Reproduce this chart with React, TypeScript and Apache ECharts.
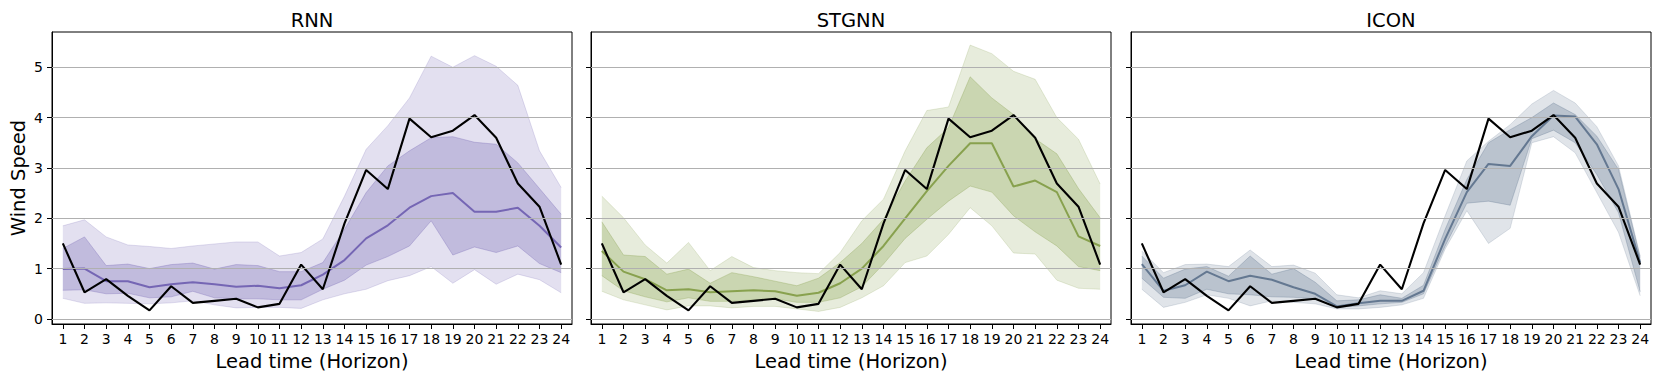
import React, { useEffect, useRef } from "react";
import * as echarts from "echarts";

const HORIZONS = ["1","2","3","4","5","6","7","8","9","10","11","12","13","14","15","16","17","18","19","20","21","22","23","24"];
const Y_TICKS = [0, 1, 2, 3, 4, 5];
const PANEL_TITLES = ["RNN", "STGNN", "ICON"];

const TRUTH = [1.50,0.53,0.79,0.46,0.17,0.65,0.32,0.36,0.40,0.23,0.30,1.08,0.59,1.90,2.96,2.58,3.98,3.61,3.74,4.05,3.60,2.69,2.23,1.08];

const RNN_MEDIAN = [0.99,1.00,0.75,0.75,0.63,0.69,0.73,0.69,0.64,0.66,0.61,0.67,0.88,1.17,1.60,1.86,2.21,2.44,2.50,2.13,2.13,2.21,1.85,1.42];
const RNN_INNER_LO = [0.57,0.58,0.50,0.51,0.42,0.44,0.55,0.42,0.40,0.40,0.38,0.38,0.59,0.77,1.07,1.24,1.45,1.95,1.27,1.43,1.32,1.45,1.10,0.92];
const RNN_INNER_HI = [1.40,1.63,1.06,1.09,1.00,1.08,1.11,0.99,1.08,1.06,0.94,0.94,1.12,1.78,2.51,3.04,3.34,3.60,3.62,3.51,3.47,3.10,2.59,2.08];
const RNN_OUTER_LO = [0.41,0.31,0.32,0.31,0.30,0.32,0.36,0.28,0.22,0.23,0.23,0.21,0.38,0.50,0.59,0.76,0.86,1.04,0.71,0.98,0.69,0.89,0.78,0.52];
const RNN_OUTER_HI = [1.85,1.97,1.63,1.47,1.44,1.40,1.45,1.49,1.53,1.53,1.25,1.32,1.59,2.44,3.37,3.84,4.39,5.22,5.00,5.23,5.02,4.64,3.34,2.61];

const STGNN_MEDIAN = [1.35,0.94,0.79,0.57,0.59,0.53,0.55,0.57,0.55,0.46,0.52,0.71,1.00,1.45,2.00,2.54,3.04,3.49,3.49,2.63,2.75,2.52,1.64,1.45];
const STGNN_INNER_LO = [0.86,0.56,0.44,0.34,0.42,0.35,0.35,0.38,0.40,0.33,0.33,0.42,0.64,1.09,1.60,1.98,2.34,2.64,2.52,2.05,1.73,1.45,1.04,0.96];
const STGNN_INNER_HI = [1.93,1.27,1.24,0.89,0.99,0.71,0.92,0.84,0.75,0.66,0.81,1.12,1.50,1.98,2.74,3.40,3.80,4.81,4.39,4.06,3.58,3.28,2.59,2.01];
const STGNN_OUTER_LO = [0.55,0.38,0.28,0.18,0.26,0.26,0.22,0.25,0.25,0.20,0.15,0.23,0.42,0.66,1.12,1.25,1.68,2.21,1.85,1.31,1.29,0.77,0.61,0.59];
const STGNN_OUTER_HI = [2.44,2.01,1.47,1.11,1.52,0.96,1.24,1.02,0.96,0.92,0.90,1.32,1.95,2.38,3.34,4.14,4.21,5.44,5.27,4.92,4.76,4.00,3.57,2.68];

const ICON_MEDIAN = [1.09,0.56,0.67,0.94,0.75,0.86,0.78,0.63,0.50,0.25,0.31,0.36,0.36,0.56,1.59,2.52,3.08,3.04,3.63,4.04,4.02,3.47,2.58,1.12];
const ICON_INNER_LO = [0.81,0.43,0.41,0.59,0.50,0.48,0.44,0.43,0.40,0.23,0.26,0.30,0.33,0.50,1.45,2.30,2.34,2.26,3.58,3.75,3.50,2.87,2.11,0.54];
const ICON_INNER_HI = [1.25,0.81,0.99,1.04,0.85,1.25,0.89,1.00,0.73,0.36,0.38,0.48,0.41,0.67,1.78,2.77,3.50,3.76,4.00,4.29,4.06,3.63,2.97,1.22];
const ICON_OUTER_LO = [0.59,0.23,0.33,0.48,0.41,0.26,0.36,0.33,0.30,0.20,0.20,0.23,0.28,0.41,1.39,2.15,1.50,1.80,3.50,3.62,3.30,2.51,1.72,0.46];
const ICON_OUTER_HI = [1.35,0.92,1.08,1.09,1.04,1.37,1.04,1.07,0.91,0.48,0.42,0.56,0.50,0.92,2.05,3.14,3.53,3.86,4.27,4.54,4.29,3.82,3.04,1.25];

const PANEL_DATA = [
  { median: RNN_MEDIAN, innerLo: RNN_INNER_LO, innerHi: RNN_INNER_HI, outerLo: RNN_OUTER_LO, outerHi: RNN_OUTER_HI },
  { median: STGNN_MEDIAN, innerLo: STGNN_INNER_LO, innerHi: STGNN_INNER_HI, outerLo: STGNN_OUTER_LO, outerHi: STGNN_OUTER_HI },
  { median: ICON_MEDIAN, innerLo: ICON_INNER_LO, innerHi: ICON_INNER_HI, outerLo: ICON_OUTER_LO, outerHi: ICON_OUTER_HI },
];

// styling / layout
const PANEL_RGB = [[117, 102, 180], [136, 161, 78], [100, 120, 145]];
const GRID_LEFT = [52, 591, 1131];
const GRID_TOP = 32;
const GRID_W = 520;
const GRID_H = 292;
const FONT = "DejaVu Sans";

const rgba = (c: number[], a: number) => `rgba(${c[0]},${c[1]},${c[2]},${a})`;

function buildOption() {
  const grid: any[] = [];
  const xAxis: any[] = [];
  const yAxis: any[] = [];
  const series: any[] = [];
  const title: any[] = [];
  const axisLineStyle = { color: "#000", width: 1 };

  PANEL_DATA.forEach((p, i) => {
    const c = PANEL_RGB[i];
    grid.push({
      left: GRID_LEFT[i], top: GRID_TOP, width: GRID_W, height: GRID_H,
      show: true, borderColor: "#000", borderWidth: 1, backgroundColor: "transparent",
    });
    title.push({
      text: PANEL_TITLES[i], left: GRID_LEFT[i] + GRID_W / 2, top: 10, padding: 0, textAlign: "center",
      textStyle: { fontFamily: FONT, fontSize: 19.5, fontWeight: "normal", color: "#000" },
    });
    xAxis.push({
      type: "category", gridIndex: i, data: HORIZONS, boundaryGap: true,
      name: "Lead time (Horizon)", nameLocation: "middle", nameGap: 27,
      nameTextStyle: { fontFamily: FONT, fontSize: 19.5, color: "#000" },
      axisLine: { show: true, onZero: false, lineStyle: axisLineStyle },
      axisTick: { show: true, alignWithLabel: true, length: 5, lineStyle: axisLineStyle },
      axisLabel: { interval: 0, margin: 8, fontFamily: FONT, fontSize: 14, color: "#000" },
      splitLine: { show: false },
    });
    yAxis.push({
      type: "value", gridIndex: i, min: -0.1, max: 5.7,
      name: i === 0 ? "Wind Speed" : "", nameLocation: "middle", nameGap: 24, nameRotate: 90,
      nameTextStyle: { fontFamily: FONT, fontSize: 19.5, color: "#000" },
      axisLine: { show: true, onZero: false, lineStyle: axisLineStyle },
      axisTick: { show: true, length: 5, customValues: Y_TICKS, lineStyle: axisLineStyle },
      axisLabel: { show: i === 0, customValues: Y_TICKS, margin: 9, fontFamily: FONT, fontSize: 14, color: "#000" },
      splitLine: { show: false },
    });
    const common = {
      type: "line", xAxisIndex: i, yAxisIndex: i, symbol: "none", showSymbol: false,
      silent: true, emphasis: { disabled: true },
    };
    // outer band
    series.push({ ...common, stack: `outer${i}`, data: p.outerLo, z: 1,
      lineStyle: { color: rgba(c, 0.2), width: 1 } });
    series.push({ ...common, stack: `outer${i}`, data: p.outerHi.map((v, k) => +(v - p.outerLo[k]).toFixed(3)), z: 1,
      lineStyle: { color: rgba(c, 0.2), width: 1 }, areaStyle: { color: rgba(c, 0.2), opacity: 1 } });
    // inner band
    series.push({ ...common, stack: `inner${i}`, data: p.innerLo, z: 1,
      lineStyle: { color: rgba(c, 0.32), width: 1 } });
    series.push({ ...common, stack: `inner${i}`, data: p.innerHi.map((v, k) => +(v - p.innerLo[k]).toFixed(3)), z: 1,
      lineStyle: { color: rgba(c, 0.32), width: 1 }, areaStyle: { color: rgba(c, 0.3), opacity: 1 } });
    // grid lines
    series.push({ ...common, data: [], z: 2,
      markLine: {
        silent: true, symbol: ["none", "none"], label: { show: false }, animation: false,
        lineStyle: { color: "#b0b0b0", width: 1.1, type: "solid" },
        emphasis: { disabled: true },
        data: Y_TICKS.map((v) => ({ yAxis: v })),
      } });
    // median
    series.push({ ...common, data: p.median, z: 3, lineStyle: { color: rgba(c, 1), width: 2 } });
    // ground truth
    series.push({ ...common, data: TRUTH, z: 4, lineStyle: { color: "#000", width: 2.1 } });
  });

  return { animation: false, backgroundColor: "#fff", title, grid, xAxis, yAxis, series };
}

export default function App() {
  const ref = useRef<HTMLDivElement>(null);
  useEffect(() => {
    if (!ref.current) return;
    const chart = echarts.init(ref.current, null, { renderer: "svg" });
    chart.setOption(buildOption() as any);
    return () => chart.dispose();
  }, []);
  return (
    <div
      ref={ref}
      style={{ position: "fixed", left: 0, top: 0, width: 1660, height: 382, background: "#fff" }}
    />
  );
}
